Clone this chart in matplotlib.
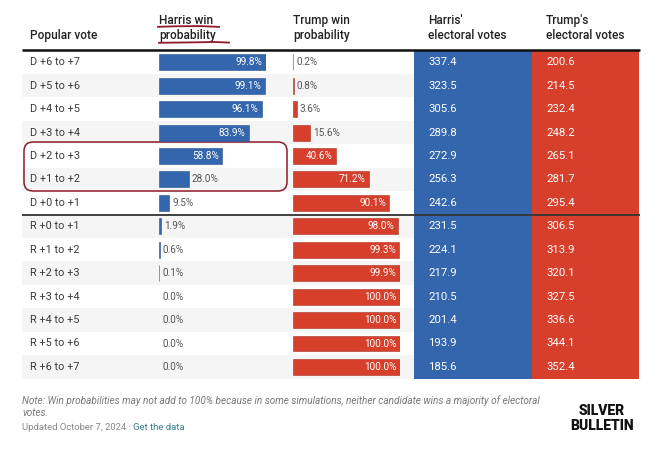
import matplotlib
matplotlib.use("Agg")
import matplotlib.pyplot as plt
from matplotlib.patches import Rectangle, FancyBboxPatch
import numpy as np

plt.rcParams['font.family'] = ['Roboto', 'DejaVu Sans']

rows = ["D +6 to +7", "D +5 to +6", "D +4 to +5", "D +3 to +4", "D +2 to +3",
        "D +1 to +2", "D +0 to +1", "R +0 to +1", "R +1 to +2", "R +2 to +3",
        "R +3 to +4", "R +4 to +5", "R +5 to +6", "R +6 to +7"]
harris_prob = [99.8, 99.1, 96.1, 83.9, 58.8, 28.0, 9.5, 1.9, 0.6, 0.1, 0.0, 0.0, 0.0, 0.0]
trump_prob = [0.2, 0.8, 3.6, 15.6, 40.6, 71.2, 90.1, 98.0, 99.3, 99.9, 100.0, 100.0, 100.0, 100.0]
harris_ev = [337.4, 323.5, 305.6, 289.8, 272.9, 256.3, 242.6, 231.5, 224.1, 217.9, 210.5, 201.4, 193.9, 185.6]
trump_ev = [200.6, 214.5, 232.4, 248.2, 265.1, 281.7, 295.4, 306.5, 313.9, 320.1, 327.5, 336.6, 344.1, 352.4]
headers = ["Popular vote", "Harris win\nprobability", "Trump win\nprobability",
           "Harris'\nelectoral votes", "Trump's\nelectoral votes"]

BLUE = "#3366ad"
RED = "#d63f2b"
W, H = 658, 453
fig = plt.figure(figsize=(W / 100, H / 100), dpi=100)
fig.patch.set_facecolor("white")

bg = fig.add_axes([0, 0, 1, 1])
bg.set_xlim(0, W)
bg.set_ylim(H, 0)
bg.axis("off")

n = len(rows)
top, rowh = 50.5, 23.44
bottom = top + n * rowh
left_x, right_x = 22, 640
ev1_x0, ev1_x1, ev2_x1 = 414, 532, 639


def fig_rect(x0, x1):
    return [x0 / W, 1 - bottom / H, (x1 - x0) / W, (bottom - top) / H]


# row shading
for i in range(n):
    if i % 2 == 1:
        bg.add_patch(Rectangle((left_x, top + i * rowh), ev1_x0 - left_x, rowh,
                               facecolor="#f5f5f5", edgecolor="none", zorder=0))
# EV columns
bg.add_patch(Rectangle((ev1_x0, top), ev1_x1 - ev1_x0, bottom - top, facecolor=BLUE,
                       edgecolor="none", zorder=1))
bg.add_patch(Rectangle((ev1_x1, top), ev2_x1 - ev1_x1, bottom - top, facecolor=RED,
                       edgecolor="none", zorder=1))

# headers
hx = [30, 159, 293, 428, 546]
for x, h in zip(hx, headers):
    bg.text(x, 39, h, fontsize=8.6, color="#222222", ha="left", va="baseline",
            linespacing=1.2, fontweight="medium")
bg.plot([left_x, right_x], [50, 50], color="#111111", lw=1.8, zorder=3,
        solid_capstyle="butt")
# separator between D and R
sep = top + 7 * rowh
bg.plot([left_x, right_x], [sep, sep], color="#333333", lw=1.3, zorder=3,
        solid_capstyle="butt")

# row labels and EVs
for i in range(n):
    yc = top + (i + 0.5) * rowh
    bg.text(30, yc, rows[i], fontsize=7.8, color="#3a3a3a", ha="left", va="center")
    bg.text(428, yc, f"{harris_ev[i]:.1f}", fontsize=8.2, color="white", ha="left",
            va="center", zorder=4)
    bg.text(546, yc, f"{trump_ev[i]:.1f}", fontsize=8.2, color="white", ha="left",
            va="center", zorder=4)


def bar_column(x0, values, color, edge):
    ax = fig.add_axes(fig_rect(x0, x0 + 107))
    ax.set_xlim(0, 100)
    ax.set_ylim(n - 0.5, -0.5)
    ax.axis("off")
    ax.patch.set_alpha(0)
    y = np.arange(n)
    vals = np.array(values)
    ax.barh(y, vals, height=0.68, color=color,
            edgecolor=[edge if v > 0 else "none" for v in vals], linewidth=0.4)
    for yi, v in zip(y, vals):
        label = f"{v:.1f}%"
        if v >= 35:
            ax.annotate(label, (v, yi), xytext=(-2.5, 0), textcoords="offset points",
                        ha="right", va="center", fontsize=7.2, color="white")
        else:
            ax.annotate(label, (v, yi), xytext=(2.2, 0), textcoords="offset points",
                        ha="left", va="center", fontsize=7.2, color="#555555")
    return ax


bar_column(159, harris_prob, BLUE, "#28508a")
bar_column(293, trump_prob, RED, "#a83322")

# hand-drawn red annotations
ann = "#8e1a2b"
bg.plot([158, 175, 200, 219], [26.8, 26.3, 26.1, 26.9], color=ann, lw=1.3, zorder=5)
bg.plot([159, 190, 215, 229], [42.8, 42.4, 42.0, 42.6], color=ann, lw=1.3, zorder=5)
bg.add_patch(FancyBboxPatch((27, 145), 257, 43,
                            boxstyle="round,pad=3,rounding_size=9",
                            facecolor="none", edgecolor=ann, lw=1.1, zorder=5))

# footer
bg.text(22, 401, "Note: Win probabilities may not add to 100% because in some simulations, "
        "neither candidate wins a majority of electoral", fontsize=7.2, style="italic",
        color="#777777", ha="left", va="center")
bg.text(22, 413, "votes.", fontsize=7.2, style="italic", color="#777777",
        ha="left", va="center")
t1 = bg.text(22, 428, "Updated October 7, 2024 · ", fontsize=6.8, color="#888888",
             ha="left", va="center")
fig.canvas.draw()
bb = t1.get_window_extent()
xend = bg.transData.inverted().transform((bb.x1, bb.y0))[0]
bg.text(xend, 428, "Get the data", fontsize=6.8, color="#3a7d8c", ha="left",
        va="center")

bg.text(602, 411, "SILVER", fontsize=10, fontweight="black", color="#111111",
        ha="center", va="center")
bg.text(602, 425.5, "BULLETIN", fontsize=10, fontweight="black", color="#111111",
        ha="center", va="center")

fig.savefig("out.png", dpi=100, facecolor="white")
